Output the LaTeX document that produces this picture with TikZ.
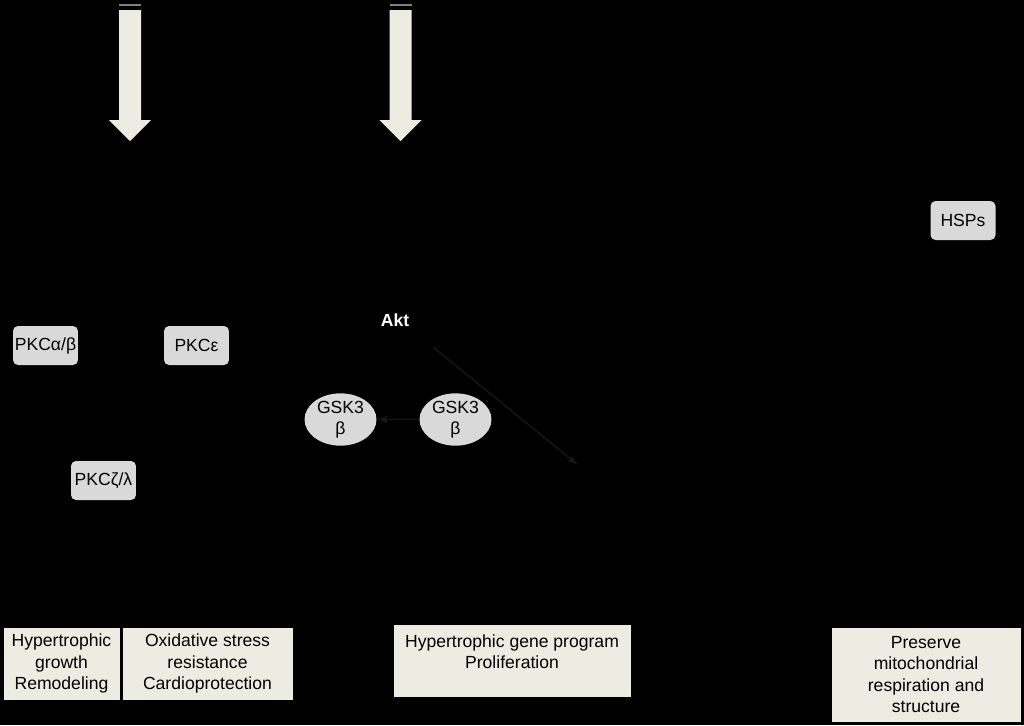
\documentclass[tikz,border=0pt]{standalone}
\usepackage{fontspec}
\setmainfont{Liberation Sans}
\usepackage{tikz}
\usetikzlibrary{arrows.meta,positioning,shapes.geometric}
\definecolor{Cream}{HTML}{EDECE2}
\definecolor{Protein}{HTML}{D9D9D9}
\definecolor{Faint}{HTML}{171717}

\begin{document}
\begin{tikzpicture}[x=0.02cm,y=-0.02cm,
    kinase/.style={rectangle,rounded corners=1mm,fill=Protein,minimum width=1.3cm,minimum height=0.78cm,inner sep=0pt,align=center},
    gsk/.style={ellipse,fill=Protein,minimum width=1.44cm,minimum height=1cm,inner sep=0pt,align=center},
    effect/.style={rectangle,draw=black,fill=Cream,minimum height=1.46cm,inner sep=0pt,align=center},
    faint/.style={-{Latex[length=2mm]},thick,draw=Faint}
]
\fill[black] (0,0) rectangle (1024,725);
\useasboundingbox (0,0) rectangle (1024,725);

% stimuli from the top
\foreach \cx in {130,400.5} {
  \draw[gray,line width=1.2pt] (\cx-11,5) -- (\cx+11,5);
  \fill[Cream] (\cx-11,10) -- (\cx+11,10) -- (\cx+11,120) -- (\cx+21,120)
    -- (\cx,141) -- (\cx-21,120) -- (\cx-11,120) -- cycle;
}

% kinases
\node[kinase] (hsp) at (963,220.5) {HSPs};
\node[kinase] (pkcab) at (45.5,345.5) {PKCα/β};
\node[kinase] (pkce) at (196.5,345.5) {PKCε};
\node[kinase] (pkczl) at (103.5,480.5) {PKCζ/λ};
\node[text=white,font=\bfseries] (akt) at (395,320) {Akt};
\node[gsk] (gskL) at (340.5,419.5) {GSK3\\β};
\node[gsk] (gskR) at (455.5,419.5) {GSK3\\β};

\coordinate (aktend) at (578,465);
\draw[faint,shorten <=13pt] (akt.south east) -- (aktend);
\draw[faint] (gskR) -- (gskL);

% outcomes
\node[effect,minimum width=2.34cm] (growth) at (61.5,663.5) {Hypertrophic\\growth\\Remodeling};
\node[effect,minimum width=3.42cm] (oxid) at (207.5,663.5) {Oxidative stress\\resistance\\Cardioprotection};
\node[effect,minimum width=4.76cm] (gene) at (512,660.5) {Hypertrophic gene program\\Proliferation\\[-6pt]\strut};
\node[effect,minimum width=3.8cm,minimum height=1.9cm] (mito) at (926,674.5) {Preserve\\mitochondrial\\respiration and\\structure};
\end{tikzpicture}
\end{document}
